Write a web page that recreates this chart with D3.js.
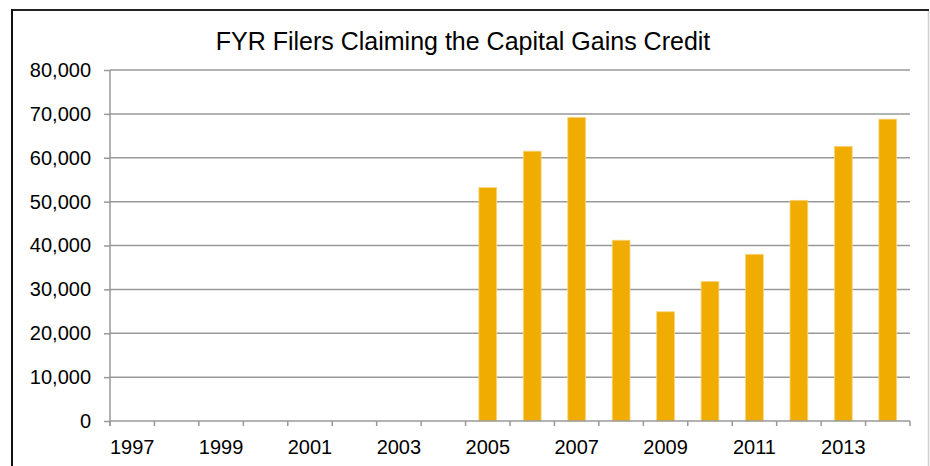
<!DOCTYPE html>
<html>
<head>
<meta charset="utf-8">
<script src="https://cdn.jsdelivr.net/npm/d3@7"></script>
<style>
  html, body { margin: 0; padding: 0; background: #fff; }
  svg { display: block; }
  text { font-family: "Liberation Sans", Arial, sans-serif; fill: #000; }
</style>
</head>
<body>
<svg id="chart" width="930" height="466"></svg>
<script>
const title = "FYR Filers Claiming the Capital Gains Credit";
const years = [1997,1998,1999,2000,2001,2002,2003,2004,2005,2006,2007,2008,2009,2010,2011,2012,2013,2014];
const filers = [null,null,null,null,null,null,null,null,53200,61500,69200,41200,24900,31800,38000,50300,62600,68800];
const yTicks = [0,10000,20000,30000,40000,50000,60000,70000,80000];
const xTickLabels = [1997,1999,2001,2003,2005,2007,2009,2011,2013];

const svg = d3.select("#chart");
const W = 930, H = 466;
const m = {left: 110, right: 20, top: 70, bottom: 45};
const x0 = m.left, x1 = W - m.right, y0 = H - m.bottom, y1 = m.top;

// outer frame
svg.append("line").attr("x1", 12).attr("x2", 929).attr("y1", 10).attr("y2", 10)
  .attr("stroke", "#222").attr("stroke-width", 2);
svg.append("line").attr("x1", 12).attr("x2", 12).attr("y1", 9).attr("y2", H)
  .attr("stroke", "#111").attr("stroke-width", 2);
svg.append("line").attr("x1", 928.5).attr("x2", 928.5).attr("y1", 11).attr("y2", H)
  .attr("stroke", "#cfcfcf").attr("stroke-width", 1.5);

const x = d3.scaleBand().domain(years).range([x0, x1]).paddingInner(0.6).paddingOuter(0.3);
const y = d3.scaleLinear().domain([0, 80000]).range([y0, y1]);
const step = x.step();

// gridlines
svg.append("g").selectAll("line").data(yTicks.filter(d => d > 0)).join("line")
  .attr("x1", x0).attr("x2", x1)
  .attr("y1", d => y(d)).attr("y2", d => y(d))
  .attr("stroke", "#999").attr("stroke-width", 1.5);

// bars
const data = years.map((yr, i) => ({year: yr, v: filers[i]})).filter(d => d.v != null);
svg.append("g").selectAll("rect").data(data).join("rect")
  .attr("x", d => x(d.year))
  .attr("width", x.bandwidth())
  .attr("y", d => y(d.v))
  .attr("height", d => y(0) - y(d.v))
  .attr("fill", "#f0ac00")
  .attr("stroke", "#f8d57e").attr("stroke-width", 0.8);

// y axis
const yAxis = d3.axisLeft(y).tickValues(yTicks).tickSize(6).tickPadding(13)
  .tickFormat(d3.format(","));
const gy = svg.append("g").attr("transform", `translate(${x0},0)`).call(yAxis);
gy.select(".domain").attr("stroke", "#999").attr("stroke-width", 1.5)
  .attr("d", `M0,${y1}V${y0 + 5}`);
gy.selectAll(".tick line").attr("stroke", "#999").attr("stroke-width", 1.5);
gy.selectAll(".tick text").attr("font-size", 20).attr("font-family", "Liberation Sans, Arial, sans-serif").attr("fill", "#000");

// x axis baseline
svg.append("line").attr("x1", x0).attr("x2", x1).attr("y1", y(0)).attr("y2", y(0))
  .attr("stroke", "#999").attr("stroke-width", 1.5);
// x ticks at category boundaries
const bounds = years.map(yr => x(yr) + x.bandwidth() / 2 - step / 2).concat([x(years[years.length - 1]) + x.bandwidth() / 2 + step / 2]);
svg.append("g").selectAll("line").data(bounds).join("line")
  .attr("x1", d => d).attr("x2", d => d)
  .attr("y1", y(0)).attr("y2", y(0) + 5)
  .attr("stroke", "#999").attr("stroke-width", 1.5);
// x labels
svg.append("g").selectAll("text").data(xTickLabels).join("text")
  .attr("x", d => x(d) + x.bandwidth() / 2)
  .attr("y", y(0) + 33)
  .attr("text-anchor", "middle")
  .attr("font-size", 20)
  .text(d => d);

// title
svg.append("text").attr("x", 463).attr("y", 50).attr("text-anchor", "middle")
  .attr("font-size", 25).text(title);
</script>
</body>
</html>
